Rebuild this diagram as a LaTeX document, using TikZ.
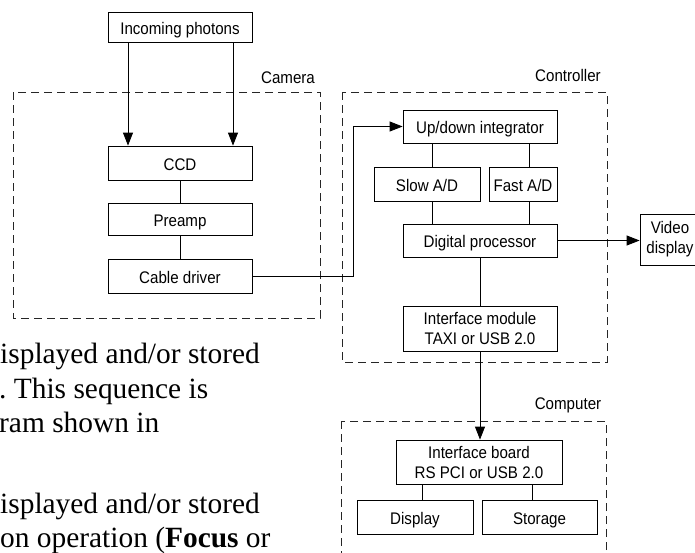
\documentclass[tikz,border=0pt]{standalone}
\usepackage{fontspec}
\setmainfont{Liberation Serif}
\newfontfamily\dg[FakeStretch=0.9]{Liberation Sans}
\usetikzlibrary{arrows.meta}
\frenchspacing
\begin{document}
\begin{tikzpicture}[x=1pt,y=-1pt,
 blk/.style={draw=black, line width=0.8pt, inner sep=0pt, font=\dg\fontsize{16.8}{20}\selectfont, align=center},
 one/.style={text height=14pt, text depth=0pt},
 grp/.style={draw=black!85, line width=0.8pt, dash pattern=on 8pt off 5pt},
 grplabel/.style={font=\dg\fontsize{16.8}{20}\selectfont, anchor=base, inner sep=0pt},
 wire/.style={line width=0.8pt},
 arr/.style={wire, -{Triangle[length=13pt,width=10pt]}},
 body/.style={font=\frenchspacing\fontsize{29.4}{35}\selectfont, anchor=base west, inner sep=0pt}]
\useasboundingbox (0,0) rectangle (695,552);
\clip (0,0) rectangle (695,552);

% group frames
\draw[grp] (13,92) rectangle (320,318);
\draw[grp] (342,92) rectangle (607,362);
\draw[grp] (341,421) rectangle (606,600);
\node[grplabel] (camlbl) at (288,83) {Camera};
\node[grplabel] (ctrllbl) at (568,81) {Controller};
\node[grplabel] (complbl) at (568,409) {Computer};

% blocks
\node[blk,one,minimum width=144pt,minimum height=30pt] (photons) at (180,27) {Incoming photons};
\node[blk,one,minimum width=144pt,minimum height=34pt] (ccd) at (180,163) {CCD};
\node[blk,one,minimum width=144pt,minimum height=32pt] (preamp) at (180,219) {Preamp};
\node[blk,one,minimum width=144pt,minimum height=34pt] (cable) at (180,276) {Cable driver};
\node[blk,one,minimum width=154pt,minimum height=33pt] (updown) at (480,126.5) {Up/down integrator};
\node[blk,one,minimum width=106pt,minimum height=34pt] (slow) at (427,184) {Slow A/D};
\node[blk,one,minimum width=68pt,minimum height=34pt] (fast) at (523,184) {Fast A/D};
\node[blk,one,minimum width=154pt,minimum height=33pt] (digital) at (480,240.5) {Digital processor};
\node[blk,minimum width=154pt,minimum height=45pt] (module) at (480,328.5) {Interface module\\TAXI or USB 2.0};
\node[blk,minimum width=60pt,minimum height=51pt] (video) at (670,239.5) {Video\\display};
\node[blk,minimum width=166pt,minimum height=44pt] (board) at (479,462) {Interface board\\RS PCI or USB 2.0};
\node[blk,one,minimum width=116pt,minimum height=34pt] (display) at (415,517) {Display};
\node[blk,one,minimum width=115pt,minimum height=34pt] (storage) at (539.5,517) {Storage};

% helper coordinates
\coordinate (xa) at (128,0);
\coordinate (xb) at (233,0);
\coordinate (xs) at (432,0);
\coordinate (xf) at (529,0);
\coordinate (xd) at (422,0);
\coordinate (xt) at (532,0);
\coordinate (bend) at (353,276);

% connectors
\draw[arr] (photons.south -| xa) -- (ccd.north -| xa);
\draw[arr] (photons.south -| xb) -- (ccd.north -| xb);
\draw[wire] (ccd) -- (preamp);
\draw[wire] (preamp) -- (cable);
\draw[arr] (cable.east) -- (bend) |- (updown.west);
\draw[wire] (updown.south -| xs) -- (slow.north -| xs);
\draw[wire] (updown.south -| xf) -- (fast.north -| xf);
\draw[wire] (slow.south -| xs) -- (digital.north -| xs);
\draw[wire] (fast.south -| xf) -- (digital.north -| xf);
\draw[arr] (digital.east) -- (digital.east -| video.west);
\draw[wire] (digital) -- (module);
\draw[arr] (module.south) -- (board.north -| module.south);
\draw[wire] (board.south -| xd) -- (display.north -| xd);
\draw[wire] (board.south -| xt) -- (storage.north -| xt);

% surrounding body text
\node[body] (t1) at (0,363) {isplayed and/or stored};
\node[body] (t2) at (-1,398) {. This sequence is};
\node[body] (t3) at (-1,432) {ram shown in};
\node[body] (t4) at (0,513) {isplayed and/or stored};
\node[body] (t5) at (0,547) {on operation (\textbf{Focus} or};
\end{tikzpicture}
\end{document}
